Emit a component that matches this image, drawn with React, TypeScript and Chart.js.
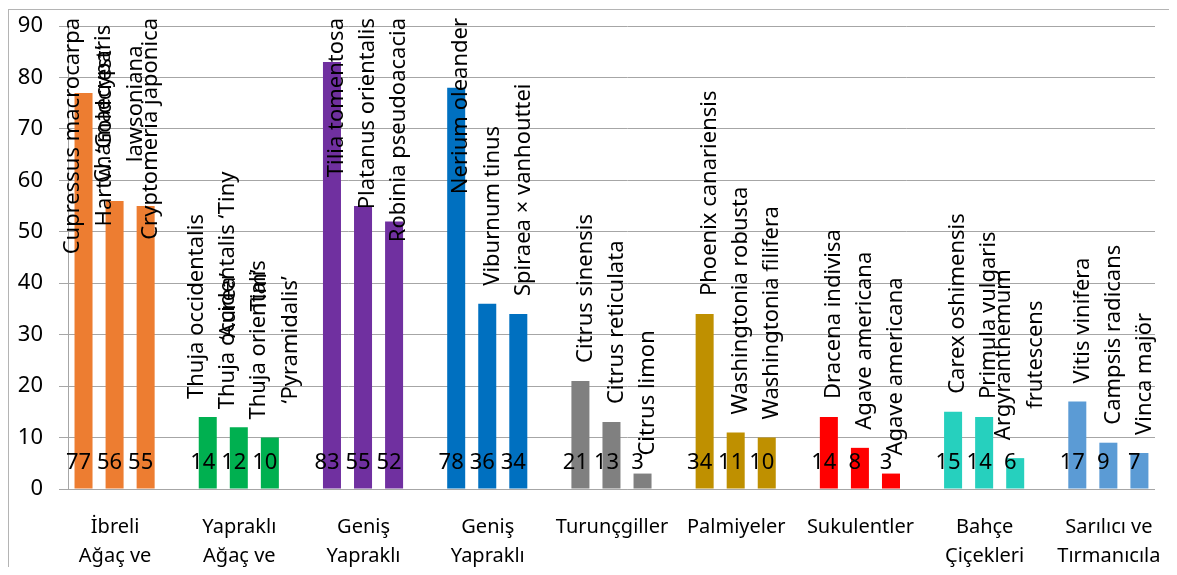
import React, { useEffect, useRef } from "react";
import { Chart, registerables } from "chart.js";

Chart.register(...registerables);

const categories: (string | string[])[] = [
  ["İbreli", "Ağaç ve"],
  ["Yapraklı", "Ağaç ve"],
  ["Geniş", "Yapraklı"],
  ["Geniş", "Yapraklı"],
  "Turunçgiller",
  "Palmiyeler",
  "Sukulentler",
  ["Bahçe", "Çiçekleri"],
  ["Sarılıcı ve", "Tırmanıcıla"],
];

const firstValues = [77, 14, 83, 78, 21, 34, 14, 15, 17];
const secondValues = [56, 12, 55, 36, 13, 11, 8, 14, 9];
const thirdValues = [55, 10, 52, 34, 3, 10, 3, 6, 7];
const spacerValues: (number | null)[] = [null, null, null, null, null, null, null, null, null];

const firstNames = [
  "Cupressus macrocarpa\nHartw. ‘Goldcrest’",
  "Thuja occidentalis\n‘Aurea’",
  "Tilia tomentosa",
  "Nerium oleander",
  "Citrus sinensis",
  "Phoenix canariensis",
  "Dracena indivisa",
  "Carex oshimensis",
  "Vitis vinifera",
];
const secondNames = [
  "Chamaecyparis\nlawsoniana",
  "Thuja occidentalis ‘Tiny\nTim’",
  "Platanus orientalis",
  "Viburnum tinus",
  "Citrus reticulata",
  "Washingtonia robusta",
  "Agave americana",
  "Primula vulgaris",
  "Campsis radicans",
];
const thirdNames = [
  "Cryptomeria japonica",
  "Thuja orientalis\n‘Pyramidalis’",
  "Robinia pseudoacacia",
  "Spiraea × vanhouttei",
  "Citrus limon",
  "Washingtonia filifera",
  "Agave americana",
  "Argyranthemum\nfrutescens",
  "Vinca majör",
];

const categoryColors = [
  "#ED7D31",
  "#00B050",
  "#7030A0",
  "#0070C0",
  "#808080",
  "#BF9000",
  "#FF0000",
  "#26D0BE",
  "#5B9BD5",
];

const yTicks = [0, 10, 20, 30, 40, 50, 60, 70, 80, 90];

const FONT = "'Noto Sans', 'Open Sans', sans-serif";
const GRID = "#a6a6a6";

const framePlugin = {
  id: "frame",
  beforeDraw(chart: any) {
    const ctx = chart.ctx;
    ctx.save();
    ctx.fillStyle = "#ffffff";
    ctx.fillRect(0, 0, chart.width, chart.height);
    ctx.strokeStyle = "#b4b4b4";
    ctx.lineWidth = 1;
    ctx.strokeRect(0.5, 1.5, chart.width + 10, chart.height + 10);
    ctx.restore();
  },
};

const gridCoverPlugin = {
  id: "gridCover",
  beforeDatasetsDraw(chart: any) {
    const ctx = chart.ctx;
    const a = chart.chartArea;
    const inset = 31;
    ctx.save();
    ctx.fillStyle = "#ffffff";
    ctx.fillRect(a.right - inset, a.top - 2, chart.width, a.bottom - a.top + 4);
    ctx.restore();
  },
};

const labelPlugin = {
  id: "barLabels",
  afterDatasetsDraw(chart: any) {
    const ctx = chart.ctx;
    const yScale = chart.scales.y;
    const area = chart.chartArea;
    const nameSets = [firstNames, secondNames, thirdNames];
    nameSets.forEach((names, di) => {
      const meta = chart.getDatasetMeta(di);
      const values = chart.data.datasets[di].data;
      meta.data.forEach((bar: any, i: number) => {
        ctx.save();
        ctx.fillStyle = "#000000";
        ctx.textAlign = "center";
        ctx.textBaseline = "middle";
        ctx.font = `22px ${FONT}`;
        ctx.fillText(String(values[i]), bar.x - 5, yScale.getPixelForValue(0) - 26);

        const lines = names[i].split("\n");
        ctx.font = `22px ${FONT}`;
        const maxLen = Math.max(...lines.map((l: string) => ctx.measureText(l).width));
        let bottom = bar.y - 18;
        const minTop = area.top - 8;
        if (bottom - maxLen < minTop) bottom = minTop + maxLen;
        const cy = bottom - maxLen / 2;
        lines.forEach((line: string, li: number) => {
          const x = bar.x + 5 + (li - (lines.length - 1) / 2) * 32;
          ctx.save();
          ctx.translate(x, cy);
          ctx.rotate(-Math.PI / 2);
          ctx.fillText(line, 0, 0);
          ctx.restore();
        });
        ctx.restore();
      });
    });
  },
};

export default function App() {
  const canvasRef = useRef<HTMLCanvasElement | null>(null);

  useEffect(() => {
    if (!canvasRef.current) return;
    const chart = new Chart(canvasRef.current, {
      type: "bar",
      data: {
        labels: categories as any,
        datasets: [
          { data: firstValues, backgroundColor: categoryColors },
          { data: secondValues, backgroundColor: categoryColors },
          { data: thirdValues, backgroundColor: categoryColors },
          { data: spacerValues, backgroundColor: categoryColors },
        ] as any,
      },
      options: {
        responsive: false,
        animation: false,
        devicePixelRatio: 1,
        layout: { padding: { left: 0, top: 18, right: 22, bottom: 0 } },
        datasets: {
          bar: { categoryPercentage: 1, barPercentage: 0.58 },
        } as any,
        plugins: {
          legend: { display: false },
          tooltip: { enabled: false },
        },
        scales: {
          x: {
            grid: { display: false },
            border: { color: GRID },
            ticks: {
              color: "#000000",
              font: { family: FONT, size: 20, lineHeight: 1.45 },
              padding: 16,
              labelOffset: -15,
              maxRotation: 0,
              autoSkip: false,
            },
            afterFit(scale: any) {
              scale.height = 86;
              scale.paddingLeft = 0;
              scale.paddingRight = 0;
            },
          },
          y: {
            min: 0,
            max: 90,
            afterBuildTicks(scale: any) {
              scale.ticks = yTicks.map((v) => ({ value: v }));
            },
            ticks: {
              color: "#000000",
              font: { family: FONT, size: 22 },
              padding: 16,
            },
            grid: { color: GRID, tickLength: 9, lineWidth: 1 },
            border: { color: GRID },
            afterFit(scale: any) {
              scale.width = 60;
              scale.paddingTop = 0;
              scale.paddingBottom = 0;
            },
          },
        },
      } as any,
      plugins: [framePlugin, gridCoverPlugin, labelPlugin],
    });
    return () => chart.destroy();
  }, []);

  return (
    <div style={{ width: 1169, height: 559, overflow: "hidden" }}>
      <canvas ref={canvasRef} width={1200} height={567} style={{ display: "block" }} />
    </div>
  );
}
